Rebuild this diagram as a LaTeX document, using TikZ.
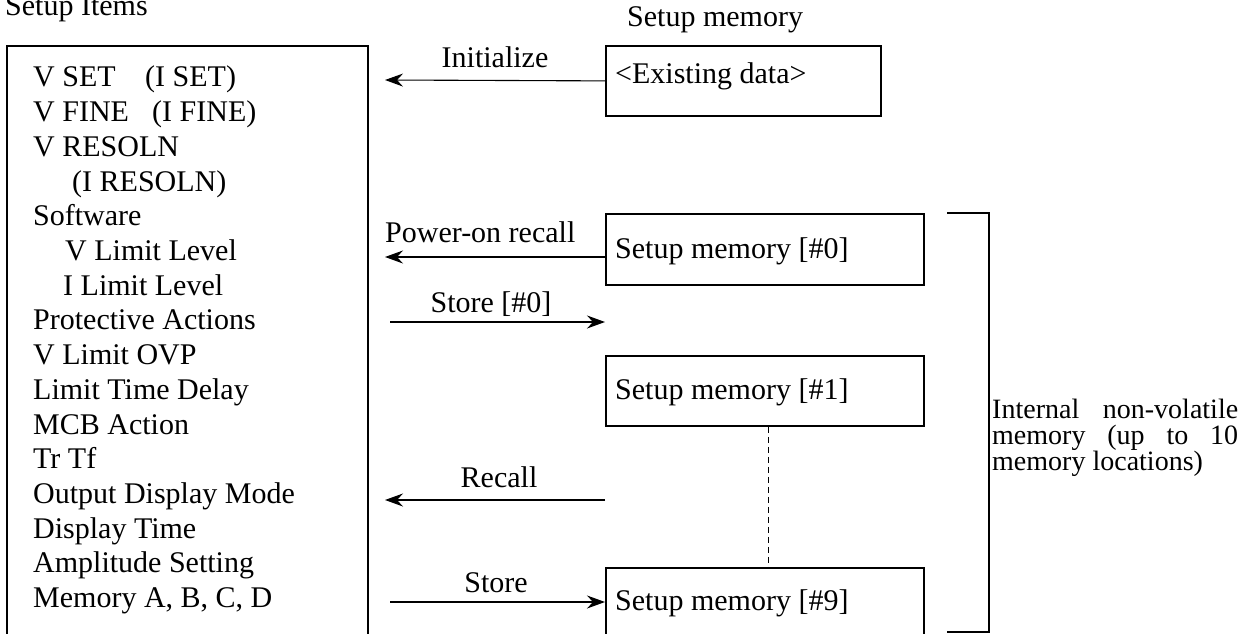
\documentclass[tikz,border=0pt]{standalone}
\usepackage{fontspec}
\setmainfont{Liberation Serif}
\usetikzlibrary{arrows.meta}
\begin{document}
\begin{tikzpicture}[x=1pt,y=-1pt,
  txt/.style={font=\fontsize{30}{34}\selectfont, inner sep=0pt, anchor=base west},
  lbl/.style={font=\fontsize{30}{34}\selectfont, inner sep=0pt, anchor=base},
  note/.style={font=\fontsize{28}{26}\selectfont, inner sep=0pt, anchor=base west},
  box/.style={draw, line width=1.8pt, inner sep=0pt, anchor=north west},
  arr/.style={-{Stealth[length=18pt,width=13pt,inset=6pt]}, line width=1.1pt},
  brk/.style={line width=1.4pt},
  dots/.style={dash pattern=on 6pt off 4pt, line width=1.1pt}]
\useasboundingbox (0,0) rectangle (1253,634);
\clip (0,0) rectangle (1253,634);
\fill[white] (0,0) rectangle (1253,634);

% headings
\node[txt] (hItems) at (5,16) {Setup Items};
\node[txt] (hMem) at (627,27) {Setup memory};

% left box with setup items
\node[box, minimum width=361pt, minimum height=620pt] (items) at (6,45) {};
\node[txt] (l0)  at (33,87)     {V SET};
\node[txt] (l0b) at (145,87)    {(I SET)};
\node[txt] (l1)  at (33,121.7)  {V FINE};
\node[txt] (l1b) at (152,121.7) {(I FINE)};
\node[txt] (l2)  at (33,156.4)  {V RESOLN};
\node[txt] (l3)  at (72,191.1)  {(I RESOLN)};
\node[txt] (l4)  at (33,225.8)  {Software};
\node[txt] (l5)  at (65,260.5)  {V Limit Level};
\node[txt] (l6)  at (63,295.2)  {I Limit Level};
\node[txt] (l7)  at (33,329.9)  {Protective Actions};
\node[txt] (l8)  at (33,364.6)  {V Limit OVP};
\node[txt] (l9)  at (33,399.3)  {Limit Time Delay};
\node[txt] (l10) at (33,434.0)  {MCB Action};
\node[txt] (l11) at (33,468.7)  {Tr Tf};
\node[txt] (l12) at (33,503.4)  {Output Display Mode};
\node[txt] (l13) at (33,538.1)  {Display Time};
\node[txt] (l14) at (33,572.8)  {Amplitude Setting};
\node[txt] (l15) at (33,607.5)  {Memory A, B, C, D};

% setup memory boxes
\node[box, minimum width=275pt, minimum height=70pt] (exist) at (605,45) {};
\node[txt] (existT) at (615,83) {<Existing data>};
\node[box, minimum width=318pt, minimum height=71pt] (m0) at (605,213) {};
\node[txt] (m0T) at (615,258) {Setup memory [\#0]};
\node[box, minimum width=318pt, minimum height=70pt] (m1) at (605,355) {};
\node[txt] (m1T) at (615,399) {Setup memory [\#1]};
\node[box, minimum width=318pt, minimum height=100pt] (m9) at (605,567) {};
\node[txt] (m9T) at (615,610) {Setup memory [\#9]};

% dashed continuation
\draw[dots] ([xshift=4pt]m1.south) -- ([xshift=4pt]m9.north);

% bracket
\coordinate (bTL) at (947,213);
\coordinate (bTR) at (989,213);
\coordinate (bBR) at (989,632);
\coordinate (bBL) at (947,632);
\draw[brk] (bTL) -- (bTR) -- (bBR) -- (bBL);

% bracket note
\node[note] (n1) at (992,418) {\makebox[246pt][s]{Internal non-volatile}};
\node[note] (n2) at (992,444) {\makebox[246pt][s]{memory (up to 10}};
\node[note] (n3) at (992,470) {memory locations)};

% arrows
\coordinate (iniL) at (385,80);
\draw[arr] (exist.west) -- (iniL);
\node[lbl] (iniT) at (495,68) {Initialize};

\coordinate (pwrL) at (385,257);
\draw[arr] (m0.west |- pwrL) -- (pwrL);
\node[txt] (pwrT) at (385,242) {Power-on recall};

\coordinate (st0L) at (390,322);
\draw[arr] (st0L) -- (m0.west |- st0L);
\node[lbl] (st0T) at (491,312) {Store [\#0]};

\coordinate (recL) at (385,500);
\draw[arr] (m1.west |- recL) -- (recL);
\node[lbl] (recT) at (499,487) {Recall};

\coordinate (stL) at (390,602);
\draw[arr] (stL) -- (m9.west |- stL);
\node[lbl] (stT) at (496,592) {Store};
\end{tikzpicture}
\end{document}
